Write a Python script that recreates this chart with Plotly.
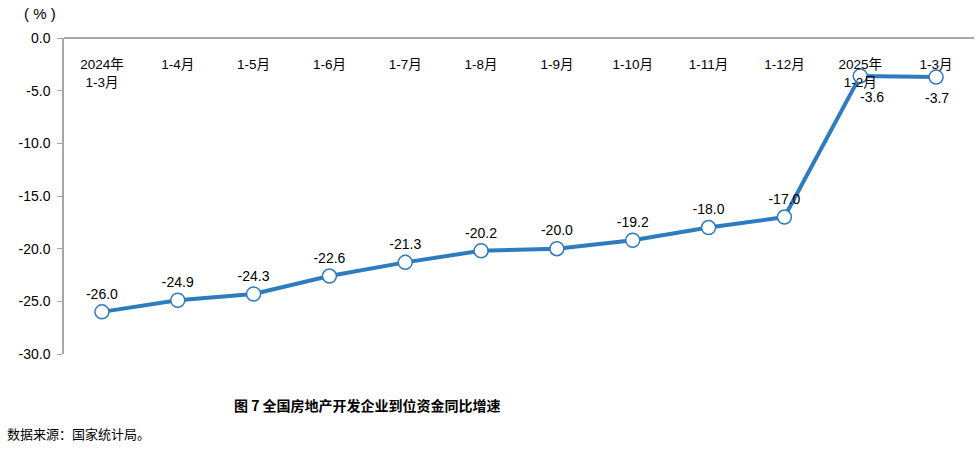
import plotly.graph_objects as go

categories = ["2024年<br>1-3月", "1-4月", "1-5月", "1-6月", "1-7月", "1-8月", "1-9月",
              "1-10月", "1-11月", "1-12月", "2025年<br>1-2月", "1-3月"]
values = [-26.0, -24.9, -24.3, -22.6, -21.3, -20.2, -20.0, -19.2, -18.0, -17.0, -3.6, -3.7]
ytick_vals = [0, -5, -10, -15, -20, -25, -30]
ytick_text = ["0.0", "-5.0", "-10.0", "-15.0", "-20.0", "-25.0", "-30.0"]

xidx = list(range(len(categories)))
n_above = 10  # labels above the points; the last two go below
labels = [f"{v:.1f}" for v in values]

fig = go.Figure()
fig.add_trace(go.Scatter(
    x=xidx, y=values, mode="lines+markers+text",
    line=dict(color="#2E7BBF", width=4),
    marker=dict(size=14, color="white", line=dict(color="#2E7BBF", width=1.5)),
    text=labels[:n_above] + [""] * (len(values) - n_above), textposition="top center",
    textfont=dict(family="Liberation Sans, Arial", size=14, color="black"),
    cliponaxis=False, showlegend=False, hoverinfo="skip",
))

below_shifts = [12, 1]
annotations = [
    dict(x=xidx[i], y=values[i], xref="x", yref="y", text=labels[i], showarrow=False,
         xshift=below_shifts[k], yshift=-21, xanchor="center", yanchor="middle",
         font=dict(family="Liberation Sans, Arial", size=14, color="black"))
    for k, i in enumerate(range(n_above, len(values)))
]
annotations += [
    dict(text="( % )", xref="paper", yref="paper", x=-0.026, y=1.0, yshift=25,
         xanchor="center", yanchor="middle", showarrow=False,
         font=dict(family="Liberation Sans, Arial", size=15, color="black")),
    dict(text="<b>图 7 全国房地产开发企业到位资金同比增速</b>", xref="paper", yref="paper",
         x=0.334, y=0, yshift=-51, xanchor="center", yanchor="middle", showarrow=False,
         font=dict(family="Noto Sans CJK SC", size=14, color="black")),
    dict(text="数据来源：国家统计局。", xref="paper", yref="paper",
         x=-0.0645, y=0, yshift=-79, xanchor="left", yanchor="middle", showarrow=False,
         font=dict(family="Noto Sans CJK SC", size=13, color="black")),
]

fig.update_layout(
    width=980, height=450,
    margin=dict(l=64, r=6, t=38, b=96),
    paper_bgcolor="white", plot_bgcolor="white",
    xaxis=dict(
        side="bottom", anchor="free", position=1,
        tickmode="array", tickvals=xidx, ticktext=categories,
        range=[-0.5, len(categories) - 0.5],
        showline=True, linecolor="#A6A6A6", linewidth=1.5,
        ticks="", showgrid=False, zeroline=False,
        ticklabelstandoff=14, automargin=False,
        tickfont=dict(family="Liberation Sans, Noto Sans CJK SC", size=13.5, color="black"),
    ),
    yaxis=dict(
        range=[-30, 0], tickmode="array", tickvals=ytick_vals, ticktext=ytick_text,
        showline=True, linecolor="#A6A6A6", linewidth=1.5,
        ticks="outside", ticklen=5, tickcolor="#A6A6A6",
        showgrid=False, zeroline=False, automargin=False, ticklabelstandoff=4,
        tickfont=dict(family="Liberation Sans, Arial", size=14, color="black"),
    ),
    annotations=annotations,
)

fig.write_html("out.html", config={"displayModeBar": False},
               post_script="document.body.style.margin='0';")
